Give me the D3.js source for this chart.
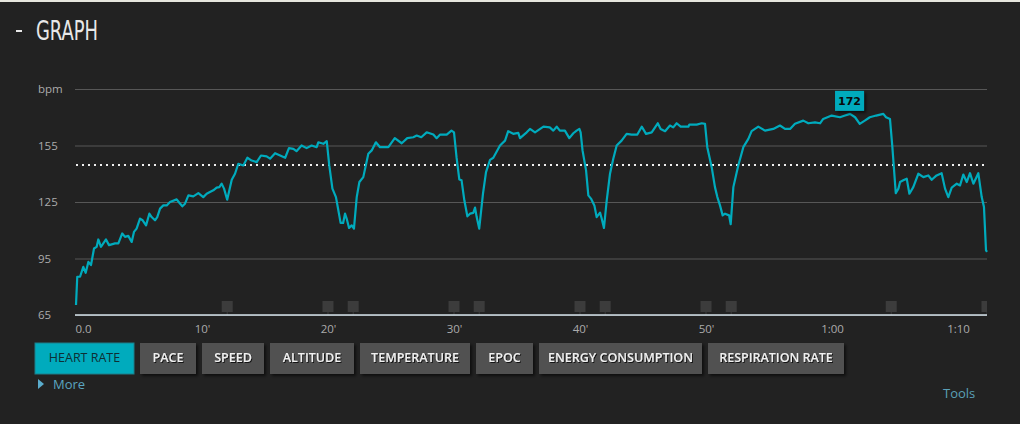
<!DOCTYPE html>
<html><head><meta charset="utf-8">
<script src="https://cdn.jsdelivr.net/npm/d3@7"></script>
<style>
html,body{margin:0;padding:0;background:#222222;}
svg{display:block;}
</style></head>
<body>
<svg id="c" width="1020" height="424"></svg>
<script>
// ---- data ----
const minutes = [0,0.1,0.32,0.58,0.77,0.98,1.19,1.43,1.64,1.77,1.98,2.38,2.62,3.1,3.36,3.67,3.89,4.15,4.42,4.6,4.81,5.08,5.29,5.56,5.82,6.0,6.27,6.45,6.67,6.93,7.2,7.46,7.99,8.2,8.44,8.65,8.92,9.31,9.71,10.1,10.37,10.63,10.9,11.16,11.38,11.56,11.75,12.0,12.36,12.62,12.88,13.28,13.6,13.94,14.34,14.68,15.13,15.4,15.8,16.2,16.6,16.9,17.25,17.5,17.9,
18.3,18.7,19.1,19.23,19.63,19.9,20.1,20.35,20.63,20.82,21.0,21.2,21.35,21.48,21.67,21.88,22.06,22.28,22.49,22.8,23.2,23.47,23.8,24.13,24.79,25.3,25.85,26.29,26.77,27.04,27.4,27.83,28.36,28.62,28.9,29.42,29.8,30.0,30.2,30.42,30.6,30.82,31.06,31.27,31.53,31.67,31.8,32.0,32.3,32.54,32.86,33.12,33.65,34.05,34.3,34.7,35.1,35.24,35.77,36.03,
36.43,37.1,37.6,37.88,38.15,38.4,38.8,39.15,39.47,39.73,39.95,40.05,40.2,40.48,40.66,40.87,41.14,41.32,41.59,41.72,41.9,42.12,42.38,42.64,42.91,43.3,43.7,44.1,44.55,44.9,45.24,45.69,46.17,46.4,46.75,47.14,47.4,47.67,47.99,48.6,48.68,49.26,49.66,49.92,50.1,50.45,50.71,50.9,51.11,51.32,51.51,51.83,51.96,52.17,52.56,52.96,53.36,53.62,54.15,
54.68,55.34,55.87,56.27,56.67,57.06,57.72,58.12,58.65,59.05,59.3,59.97,60.63,61.03,61.43,61.83,62.2,62.6,63.0,63.5,64.07,64.29,64.6,64.79,65.06,65.27,65.4,65.66,65.93,66.14,66.45,66.85,67.25,67.64,67.91,68.3,68.7,68.97,69.23,69.5,69.9,70.16,70.42,70.69,70.95,71.22,71.61,71.88,72.06,72.22,72.3];
const bpm = [70.3,85.3,85.3,90.6,87.4,93.2,91.5,100.3,101.2,105.1,101.2,105.1,102.1,103,103,108.3,106.5,107,103.8,109.1,110.9,116.2,115.3,112.6,118.8,117,115.3,117,121.5,123.2,123.2,125,126.4,124.6,122.7,124.1,128.5,128,129.7,127.6,129.4,130.3,131.2,132.6,132.9,134.7,132.1,126.2,136.8,140,145.3,144.4,148.5,147,146.2,149.7,149.2,148,150.9,149.7,148.5,153.6,153.2,152,155,
153.6,155,154.1,156.7,155.9,157.3,144.4,132.1,127.6,120.6,113.9,113.9,118.8,116.2,111.2,112.6,110.9,127.6,135.6,138.2,150.6,152.4,156.7,154.1,154.1,158.9,156.2,158.9,159.4,160.3,159.4,162,160.8,158.9,160.8,160.8,162.9,162,148.8,137,136.5,125.9,117.4,118.8,119.2,122,117,110.9,129.4,140.9,147.4,148.5,155,157.6,162.6,161.2,161.7,158.9,162,163.8,
162,165,164.6,162.9,165,162.9,162.9,158.9,161.5,162.9,163.8,162,152.4,141.8,128.5,126.8,123.2,117,119.4,116.2,111.2,125.9,140,148,155,157.6,161.2,160.8,160.8,165,161.2,162,166.8,163.8,162.6,165.6,164.6,166.8,165,165,166.1,166.1,166.8,166.5,154.1,143.5,132.9,127.6,123.2,117.9,118.8,117.9,113.2,132.9,144.4,154.1,158.5,162.6,165,
162.9,163.8,165.6,163.8,163.8,166.5,168.2,166.8,167.3,166.8,169.1,170.9,170,170.9,171.8,170,166.5,168.2,170,170.9,171.8,170,169.1,154.1,129.7,132.1,135.6,136.5,137.4,129.4,132.9,140,138.2,139.1,136.8,139.1,140.3,132.1,127.6,132.6,134.7,133.8,139.6,135.6,140.3,134.7,140.3,127.6,122.3,99.4,98.5];
const yTicks = [65,95,125,155,185];
const yLabels = ["65","95","125","155","bpm"];
const xTicks = [0,10,20,30,40,50,60,70];
const xLabels = ["0.0","10'","20'","30'","40'","50'","1:00","1:10"];
const threshold = 144.6;
const peakLabel = "172";
const markerTimes = [12,20,22,30,32,40,42,50,52,64.7,72.3];
const buttons = ["HEART RATE","PACE","SPEED","ALTITUDE","TEMPERATURE","EPOC","ENERGY CONSUMPTION","RESPIRATION RATE"];
const buttonWidths = [99,56,62,84,110,57,163,136];

// ---- drawing ----
const svg = d3.select("#c");
const teal = "#00abbd";
const defs = svg.append("defs");
const f = defs.append("filter").attr("id","ts").attr("x","-10%").attr("y","-30%").attr("width","130%").attr("height","160%");
f.append("feDropShadow").attr("dx",1).attr("dy",1).attr("stdDeviation",0.3).attr("flood-color","#111").attr("flood-opacity",0.9);
const f2 = defs.append("filter").attr("id","bs").attr("x","-20%").attr("y","-20%").attr("width","150%").attr("height","150%");
f2.append("feDropShadow").attr("dx",2).attr("dy",2).attr("stdDeviation",1.5).attr("flood-color","#000").attr("flood-opacity",0.6);

svg.append("rect").attr("x",0).attr("y",0).attr("width",1020).attr("height",2).attr("fill","#e6e6de");

svg.append("rect").attr("x",16).attr("y",30).attr("width",6).attr("height",2).attr("fill","#e8e8e8");
svg.append("text").attr("x",36).attr("y",40).attr("fill","#e8e8e8")
  .attr("textLength",62).attr("lengthAdjust","spacingAndGlyphs")
  .style("font-family","'DejaVu Sans Condensed','DejaVu Sans'").style("font-stretch","condensed")
  .style("font-size","26.5px").text("GRAPH");

const x = d3.scaleLinear().domain([0,72.3]).range([76,987]);
const y = d3.scaleLinear().domain([65,185]).range([315,89]);

// gridlines + y labels
const gy = svg.append("g").attr("transform","translate(76,0)")
  .call(d3.axisLeft(y).tickValues(yTicks).tickSize(-911).tickFormat((d,i)=>yLabels[i]));
gy.select(".domain").remove();
gy.selectAll(".tick line").attr("stroke","#575757").attr("stroke-width",1).attr("x1",-1);
gy.selectAll(".tick text").attr("x",-38).attr("text-anchor","start").attr("fill","#ababab")
  .style("font-family","'Open Sans',sans-serif").style("font-size","11.5px");

// threshold dotted line
svg.append("line").attr("x1",76).attr("x2",987).attr("y1",y(threshold)).attr("y2",y(threshold))
  .attr("stroke","#f0f0f0").attr("stroke-width",2).attr("stroke-dasharray","2,4");

// markers
svg.append("clipPath").attr("id","pc").append("rect").attr("x",70).attr("y",80).attr("width",917).attr("height",240);
const mg = svg.append("g").attr("clip-path","url(#pc)");
mg.selectAll("rect.m").data(markerTimes).enter().append("rect").attr("class","m")
  .attr("x",d=>x(d)-5.5).attr("y",301).attr("width",11).attr("height",11).attr("fill","#3c3c3c");
mg.selectAll("line.m").data(markerTimes).enter().append("line").attr("class","m")
  .attr("x1",d=>x(d)).attr("x2",d=>x(d)).attr("y1",312).attr("y2",315).attr("stroke","#3c3c3c");

// x axis
const gx = svg.append("g").attr("transform","translate(0,315)")
  .call(d3.axisBottom(x).tickValues(xTicks).tickSize(0).tickFormat((d,i)=>xLabels[i]));
gx.select(".domain").attr("stroke","#d4e2ea").attr("stroke-width",1.6).attr("d","M75,0H987");
gx.selectAll(".tick text").attr("y",10).attr("fill","#ababab")
  .style("font-family","'Open Sans',sans-serif").style("font-size","11.5px");
gx.selectAll(".tick text").filter((d,i)=>i===0).attr("text-anchor","start").attr("x",-1);

// line
const data = minutes.map((m,i)=>({m, v:bpm[i]}));
svg.append("path").datum(data).attr("fill","none").attr("stroke",teal).attr("stroke-width",2.2)
  .attr("stroke-linejoin","round")
  .attr("d", d3.line().x(d=>x(d.m)).y(d=>y(d.v)));

// peak label
const peak = data.reduce((a,b)=> b.v>a.v?b:a);
const pg = svg.append("g").attr("transform",`translate(${x(peak.m)},${y(peak.v)-3})`);
pg.append("rect").attr("x",-15).attr("y",-20).attr("width",29).attr("height",20).attr("fill",teal).attr("filter","url(#bs)");
pg.append("text").attr("x",-0.5).attr("y",-6).attr("text-anchor","middle").attr("fill","#0a0a0a")
  .style("font-family","'DejaVu Sans',sans-serif").style("font-weight","bold").style("font-size","11px").text(peakLabel);

// buttons
let bx = 35;
buttons.forEach((b,i)=>{
  const w = buttonWidths[i];
  const g = svg.append("g").attr("transform",`translate(${bx},343)`);
  g.append("rect").attr("width",w).attr("height",31).attr("fill", i===0?teal:"#515151")
    .attr("stroke", i===0?"#1d7f8a":"none").attr("filter", i===0?null:"url(#bs)");
  g.append("text").attr("x",w/2).attr("y",19).attr("text-anchor","middle").attr("fill", i===0?"#0e2f34":"#f0f0f0")
    .attr("filter", i===0?null:"url(#ts)")
    .style("font-family","'Open Sans',sans-serif").style("font-weight", i===0?"400":"600").style("font-size","12.5px").text(b);
  bx += w + 6;
});

// More / Tools
svg.append("path").attr("d","M38,379L44,384L38,389Z").attr("fill","#5aaccc");
svg.append("text").attr("x",53).attr("y",389).attr("fill","#5aa5c0")
  .style("font-family","'Open Sans',sans-serif").style("font-size","13px").text("More");
svg.append("text").attr("x",943).attr("y",398).attr("fill","#5aa0b8")
  .style("font-family","'Open Sans',sans-serif").style("font-size","13px").text("Tools");
</script>
</body></html>
